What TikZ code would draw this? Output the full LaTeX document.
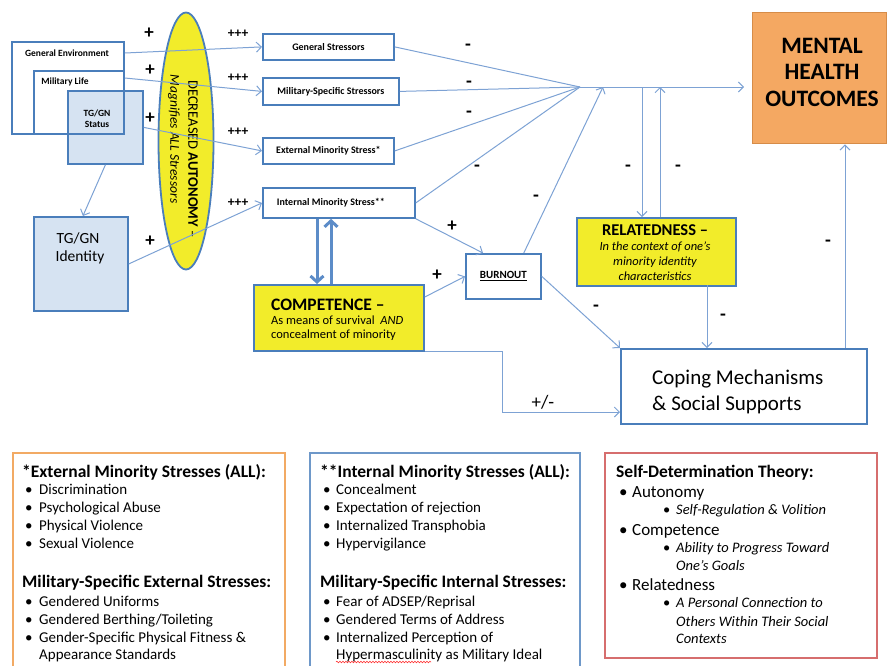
\documentclass[tikz,border=0pt]{standalone}
\usepackage{fontspec}
\setmainfont{Carlito}
\usetikzlibrary{arrows.meta,shapes.geometric,decorations.pathmorphing}
\definecolor{bord}{RGB}{74,126,187}
\definecolor{ln}{RGB}{125,162,212}
\definecolor{thk}{RGB}{92,140,200}
\definecolor{lblue}{RGB}{214,227,242}
\definecolor{yel}{RGB}{242,236,42}
\definecolor{org}{RGB}{244,168,98}
\definecolor{orgb}{RGB}{214,140,72}
\definecolor{orgp}{RGB}{242,170,100}
\definecolor{redb}{RGB}{214,110,110}
\newcommand\fsz[2]{\fontsize{#1}{#2}\selectfont}
\begin{document}
\begin{tikzpicture}[x=1pt,y=-1pt,
  bx/.style={draw=bord, line width=1.8pt, inner sep=0, anchor=north west},
  conn/.style={draw=ln, line width=1pt},
  arr/.style={conn, -{Straight Barb[length=5pt,width=10pt]}},
  thkarr/.style={draw=thk, line width=3pt, -{Straight Barb[length=6pt,width=13pt]}},
  sg/.style={font=\fsz{19}{19}\bfseries, inner sep=0},
  sgm/.style={font=\fsz{19}{19}\bfseries, inner sep=0},
  sgs/.style={font=\fsz{13.5}{14}\bfseries, inner sep=0},
  tx/.style={inner sep=0, anchor=base west},
  tc/.style={inner sep=0, anchor=base},
  stl/.style={inner sep=0, font=\fsz{9.5}{10}\bfseries},
  hd/.style={tx, font=\fsz{17.5}{18}\bfseries},
  it/.style={tx, font=\fsz{15}{16}},
]
\useasboundingbox (0,0) rectangle (887,665);

% ---- left context boxes
\node[bx, fill=lblue, minimum width=75pt, minimum height=73pt] (tgs) at (67,90) {};
\node[bx, minimum width=112pt, minimum height=92pt] (genv) at (11,41) {};
\node[bx, minimum width=90pt, minimum height=63pt] (mil) at (33,70) {};
\node[stl] (genvl) at (67,53) {General Environment};
\node[stl] (mill) at (65,82) {Military Life};
\node[stl, align=center, font=\fsz{9.5}{11}\bfseries] (tgsl) at (97,119) {TG/GN\\Status};

\node[bx, fill=lblue, minimum width=94pt, minimum height=94pt] (tgi) at (33,216) {};
\node[tc, font=\fsz{15.5}{16}] (tgil1) at (78,243) {TG/GN};
\node[tc, font=\fsz{15.5}{16}] (tgil2) at (80,261) {Identity};

% ---- autonomy ellipse
\node[ellipse, draw=bord, line width=1.8pt, fill=yel, minimum width=55pt, minimum height=257pt, inner sep=0] (aut) at (186,141) {};
\node[inner sep=0, rotate=-90, font=\fsz{14.5}{15}] (autl1) at (193,159) {DECREASED \textbf{AUTONOMY} –};
\node[inner sep=0, rotate=-90, font=\fsz{13.5}{14}\itshape] (autl2) at (174,139) {Magnifies ALL Stressors};

% ---- stressor boxes
\node[bx, minimum width=131pt, minimum height=26pt] (gs) at (262,33) {};
\node[stl, font=\fsz{10}{10}\bfseries] at (gs.center) {General Stressors};
\node[bx, minimum width=136pt, minimum height=27pt] (ms) at (262,77) {};
\node[stl, font=\fsz{10}{10}\bfseries] at (ms.center) {Military-Specific Stressors};
\node[bx, minimum width=131pt, minimum height=26pt] (es) at (262,137) {};
\node[stl, font=\fsz{10}{10}\bfseries] at (es.center) {External Minority Stress*};
\node[bx, minimum width=152pt, minimum height=30pt] (is) at (262,187) {};
\node[stl, font=\fsz{10}{10}\bfseries] at ([xshift=-8pt]is.center) {Internal Minority Stress**};

% ---- mental health
\node[bx, draw=orgb, fill=org, minimum width=134pt, minimum height=131pt, line width=1.4pt] (mh) at (752,12) {};
\node[tc, font=\fsz{23.5}{24}\bfseries] (mh1) at (822,53) {MENTAL};
\node[tc, font=\fsz{23.5}{24}\bfseries] (mh2) at (822,79.5) {HEALTH};
\node[tc, font=\fsz{23.5}{24}\bfseries] (mh3) at (822,106) {OUTCOMES};

% ---- relatedness
\node[bx, fill=yel, minimum width=159pt, minimum height=68pt] (rel) at (576,217) {};
\node[tc, font=\fsz{16.5}{17}\bfseries] (rel1) at (655,235) {RELATEDNESS –};
\node[tc, font=\fsz{12.5}{13}\itshape] (rel2) at (655,250) {In the context of one’s};
\node[tc, font=\fsz{12.5}{13}\itshape] (rel3) at (655,265) {minority identity};
\node[tc, font=\fsz{12.5}{13}\itshape] (rel4) at (655,280) {characteristics};

% ---- coping
\node[bx, minimum width=246pt, minimum height=75pt] (cop) at (620,348) {};
\node[tx, font=\fsz{21}{22}] (cop1) at (652,384) {Coping Mechanisms};
\node[tx, font=\fsz{21}{22}] (cop2) at (652,410) {\& Social Supports};

% ---- burnout
\node[bx, minimum width=75pt, minimum height=45pt] (bo) at (465,253) {};
\node[inner sep=0, font=\fsz{11}{11}\bfseries] (bol) at (bo.center) {\underline{BURNOUT}};

% ---- competence
\node[bx, fill=yel, minimum width=170pt, minimum height=66pt] (comp) at (253,284) {};
\node[tx, font=\fsz{17.5}{18}\bfseries] (comp1) at (271,310) {COMPETENCE –};
\node[tx, font=\fsz{12.5}{13}] (comp2) at (271,324) {As means of survival\ \ \textit{AND}};
\node[tx, font=\fsz{12.5}{13}] (comp3) at (271,338) {concealment of minority};

% ---- connectors
\coordinate (conv) at (580,87);
\coordinate (b2) at (603,87);
\coordinate (r1) at (642,87);
\coordinate (r2) at (660,87);
\coordinate (r3) at (707,285);
\coordinate (c1) at (845,348);
\coordinate (k1) at (502,412);

\draw[arr] ([yshift=-12pt]genv.north east) -- (gs.west);
\draw[arr] ([yshift=-8pt]mil.north east) -- (ms.west);
\draw[arr] (tgs.east) -- (es.west);
\draw[arr] (tgi.east) -- (is.west);
\draw[arr] (tgs.south) -- ([xshift=2pt]tgi.north);

\draw[conn] (gs.east) -- (conv);
\draw[conn] (ms.east) -- (conv);
\draw[conn] (es.east) -- (conv);
\draw[conn] (is.east) -- (conv);
\draw[arr, shorten >=8pt] (conv) -- (conv -| mh.west);
\draw[arr] ([xshift=-18pt]bo.north east) -- (b2);
\draw[arr] (r1) -- (r1 |- rel.north);
\draw[arr] (r2 |- rel.north) -- (r2);
\draw[arr] (r3) -- (r3 |- cop.north);
\draw[arr] (c1) -- (c1 |- mh.south);
\draw[arr] (bo.east) -- (cop.north west);
\draw[arr] (is.south east) -- ([xshift=18pt]bo.north west);
\draw[arr] ([yshift=-13pt]comp.north east) -- (bo.west);
\draw[arr] (comp.south east) -| (k1) -- (k1 -| cop.west);
\draw[thkarr] (is.south -| 317,0) -- (comp.north -| 317,0);
\draw[thkarr] (comp.north -| 331,0) -- (is.south -| 331,0);

% ---- signs
\node[sg] (p1) at (149,33) {+};
\node[sg] (p2) at (150,70) {+};
\node[sg] (p3) at (150,118) {+};
\node[sg] (p4) at (150,241) {+};
\node[sgs] (t1) at (238,34) {+++};
\node[sgs] (t2) at (238,78) {+++};
\node[sgs] (t3) at (238,132) {+++};
\node[sgs] (t4) at (238,203) {+++};
\node[sgm] (m1) at (468,47) {-};
\node[sgm] (m2) at (469,84) {-};
\node[sgm] (m3) at (469,114) {-};
\node[sgm] (m4) at (477,168) {-};
\node[sgm] (m5) at (536,198) {-};
\node[sgm] (m6) at (628,168) {-};
\node[sgm] (m7) at (678,168) {-};
\node[sgm] (m8) at (828,243) {-};
\node[sgm] (m9) at (596,308) {-};
\node[sgm] (m10) at (723,317) {-};
\node[sg] (p5) at (452,226) {+};
\node[sg] (p6) at (437,275) {+};
\node[sg, font=\fsz{19}{19}] (pm) at (543,402) {+/-};

% ---- bottom panels
\draw[draw=orgp, line width=1.6pt] (13,453) rectangle (285,680);
\draw[draw=bord!80, line width=1.6pt] (310,453) rectangle (580,680);
\draw[draw=redb, line width=1.6pt] (605,453) rectangle (877,658);

\node[hd] (eh) at (22,477) {*External Minority Stresses (ALL):};
\foreach \t/\y [count=\i] in {Discrimination/494, Psychological Abuse/512, Physical Violence/530, Sexual Violence/548}{
  \node[tx, font=\fsz{15}{16}] (eb\i) at (25,\y) {\textbullet};
  \node[it] (ei\i) at (39,\y) {\t};
}
\node[hd] (eh2) at (22,587) {Military-Specific External Stresses:};
\foreach \t/\y [count=\i] in {{Gendered Uniforms}/606, {Gendered Berthing/Toileting}/624, {Gender-Specific Physical Fitness \&}/642}{
  \node[tx, font=\fsz{15}{16}] (fb\i) at (25,\y) {\textbullet};
  \node[it] (fi\i) at (39,\y) {\t};
}
\node[it] (fi4) at (39,659) {Appearance Standards};

\node[hd] (ih) at (320,477) {**Internal Minority Stresses (ALL):};
\foreach \t/\y [count=\i] in {Concealment/494, {Expectation of rejection}/512, {Internalized Transphobia}/530, Hypervigilance/548}{
  \node[tx, font=\fsz{15}{16}] (ib\i) at (323,\y) {\textbullet};
  \node[it] (ii\i) at (336,\y) {\t};
}
\node[hd] (ih2) at (320,587) {Military-Specific Internal Stresses:};
\foreach \t/\y [count=\i] in {{Fear of ADSEP/Reprisal}/606, {Gendered Terms of Address}/624, {Internalized Perception of}/642}{
  \node[tx, font=\fsz{15}{16}] (jb\i) at (323,\y) {\textbullet};
  \node[it] (ji\i) at (336,\y) {\t};
}
\node[it] (ji4) at (336,659) {Hypermasculinity as Military Ideal};
\draw[red!80, line width=0.6pt, decorate, decoration={snake, amplitude=0.8pt, segment length=3pt}] (336,662) -- (431,662);

\node[hd] (sh) at (616,477) {Self-Determination Theory:};
\node[tx, font=\fsz{17}{18}] (sb1) at (619,497) {\textbullet};
\node[tx, font=\fsz{17}{18}] (si1) at (632,497) {Autonomy};
\node[tx, font=\fsz{14.5}{15}] (sc1) at (663,514) {\textbullet};
\node[tx, font=\fsz{14.5}{15}\itshape] (sj1) at (676,514) {Self-Regulation \& Volition};
\node[tx, font=\fsz{17}{18}] (sb2) at (619,535) {\textbullet};
\node[tx, font=\fsz{17}{18}] (si2) at (632,535) {Competence};
\node[tx, font=\fsz{14.5}{15}] (sc2) at (663,552) {\textbullet};
\node[tx, font=\fsz{14.5}{15}\itshape] (sj2) at (676,552) {Ability to Progress Toward};
\node[tx, font=\fsz{14.5}{15}\itshape] (sj3) at (676,570) {One’s Goals};
\node[tx, font=\fsz{17}{18}] (sb3) at (619,590) {\textbullet};
\node[tx, font=\fsz{17}{18}] (si3) at (632,590) {Relatedness};
\node[tx, font=\fsz{14.5}{15}] (sc3) at (663,607) {\textbullet};
\node[tx, font=\fsz{14.5}{15}\itshape] (sj4) at (676,607) {A Personal Connection to};
\node[tx, font=\fsz{14.5}{15}\itshape] (sj5) at (676,626) {Others Within Their Social};
\node[tx, font=\fsz{14.5}{15}\itshape] (sj6) at (676,643) {Contexts};
\end{tikzpicture}
\end{document}
